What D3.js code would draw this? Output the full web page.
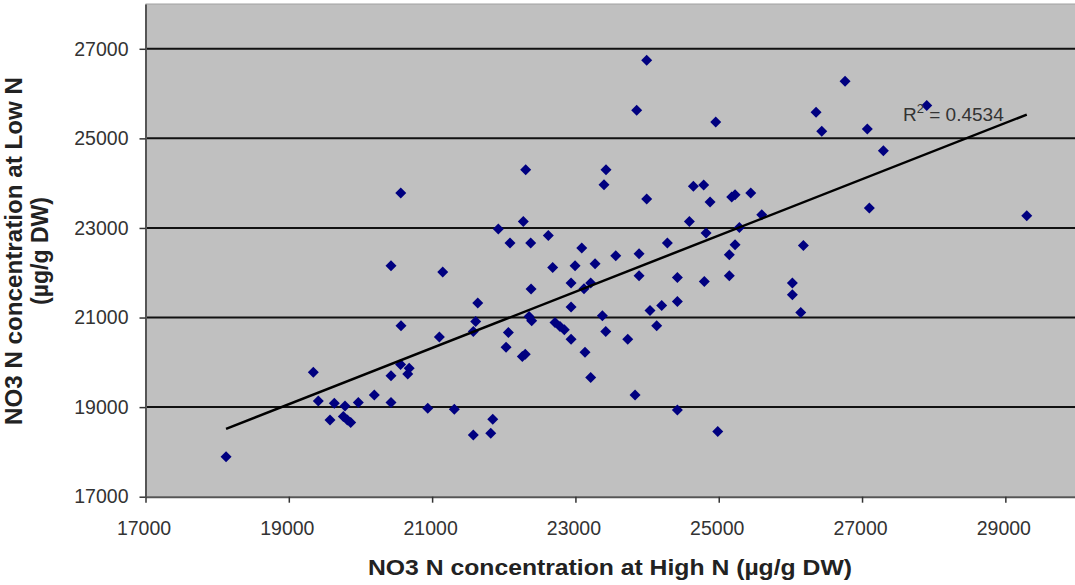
<!DOCTYPE html>
<html><head><meta charset="utf-8">
<script src="https://cdn.jsdelivr.net/npm/d3@7"></script>
<style>
body{margin:0;background:#fff;}
svg{display:block;font-family:Arial,"Liberation Sans",sans-serif;}
</style>
</head><body>
<svg id="c" width="1075" height="585"></svg>
<script>
// NO3 N concentration at High N (x) and at Low N (y), µg/g DW
const highN = [18124,19342,19412,19635,19784,19575,19761,19817,19864,19970,20193,20426,20426,20560,20680,20660,20939,21310,21575,21818,21846,
  20426,21148,20566,21101,20562,21637,21608,21575,22064,22032,22259,22300,22381,22353,22390,22683,22995,23274,23888,22939,23120,23213,22939,
  22715,22785,22845,22939,23134,23213,23376,23423,23730,23832,24041,24204,24134,24423,24423,24423,24799,25148,24986,26028,26028,26145,26181,
  27102,29299,26763,26358,26438,27074,27298,27903,23995,23855,24958,22306,23427,23399,23995,24646,24790,24879,25181,25228,25447,25600,25288,
  25228,25148,24823,24590,24283,23888,23563,23088,22622,22376,22087,21924,22273];
const lowN = [17894,19780,19139,19087,19027,18714,18788,18714,18654,19101,19273,19101,19698,19950,19870,19740,18976,18953,18379,18416,18730,
  22156,22015,20815,20563,23781,21323,20911,20688,20665,20339,20129,20180,21635,21023,20927,22118,22156,22201,21933,21770,21642,21770,21233,
  20889,20800,20726,20518,20227,19660,21039,20688,20518,19273,21157,21269,20815,21358,21895,18938,21805,21933,18453,21770,21508,21112,22610,
  23446,23274,26275,25582,25158,25211,24726,25732,26745,25627,25368,24302,24302,23967,23647,23929,23960,23580,23691,23743,23781,23296,23012,
  22626,22402,22887,23146,22663,22424,22380,22552,22833,22663,22663,22976,23146];
const xTicks = [17000,19000,21000,23000,25000,27000,29000];
const yTicks = [17000,19000,21000,23000,25000,27000];
const gridValues = [19000,21000,23000,25000,27000];
const trendHighN = [18124, 29299];
const trendLowN = [18513, 25531];
const r2Text = "0.4534";
const xTitle = "NO3 N concentration at High N (µg/g DW)";
const yTitle1 = "NO3 N concentration at Low N";
const yTitle2 = "(µg/g DW)";

const svg = d3.select("#c");
const x = d3.scaleLinear().domain([17000, 30000]).range([145.5, 1077]);
const y = d3.scaleLinear().domain([17000, 28000]).range([496.7, 4]);

// plot background
svg.append("rect")
  .attr("x", x(17000)).attr("y", y(28000))
  .attr("width", x(30000) - x(17000)).attr("height", y(17000) - y(28000))
  .attr("fill", "#c0c0c0");
svg.append("line")
  .attr("x1", x(17000)).attr("x2", x(30000))
  .attr("y1", y(28000)).attr("y2", y(28000))
  .attr("stroke", "#a0a0a0").attr("stroke-width", 1);

// gridlines
svg.append("g").selectAll("line").data(gridValues).join("line")
  .attr("x1", x(17000)).attr("x2", x(30000))
  .attr("y1", d => y(d)).attr("y2", d => y(d))
  .attr("stroke", "#111").attr("stroke-width", 2);

// axes
const xAxis = svg.append("g").attr("transform", `translate(0,${y(17000)})`)
  .call(d3.axisBottom(x).tickValues(xTicks).tickSize(6).tickSizeOuter(0).tickFormat(d3.format("d")));
const yAxis = svg.append("g").attr("transform", `translate(${x(17000)},0)`)
  .call(d3.axisLeft(y).tickValues(yTicks).tickSize(6).tickSizeOuter(0).tickFormat(d3.format("d")));
[xAxis, yAxis].forEach(a => {
  a.select(".domain").attr("stroke", "#555").attr("stroke-width", 2);
  a.selectAll(".tick line").attr("stroke", "#333").attr("stroke-width", 1.5);
  a.selectAll(".tick text").attr("fill", "#333").attr("font-size", 19.5)
   .attr("font-family", "Arial, 'Liberation Sans', sans-serif");
});
xAxis.selectAll(".tick text").attr("y", 24).attr("dx", "-2px");
yAxis.selectAll(".tick text").attr("x", -17);

// points (diamonds)
const pts = highN.map((h, i) => [h, lowN[i]]);
const r = 5.5;
svg.append("g").selectAll("path").data(pts).join("path")
  .attr("d", d => `M${x(d[0])},${y(d[1]) - r}L${x(d[0]) + r},${y(d[1])}L${x(d[0])},${y(d[1]) + r}L${x(d[0]) - r},${y(d[1])}Z`)
  .attr("fill", "#000080");

// trendline
svg.append("line")
  .attr("x1", x(trendHighN[0])).attr("y1", y(trendLowN[0]))
  .attr("x2", x(trendHighN[1])).attr("y2", y(trendLowN[1]))
  .attr("stroke", "#000").attr("stroke-width", 2.5);

// R² label
const rt = svg.append("text").attr("x", 903).attr("y", 121)
  .attr("font-size", 19).attr("fill", "#333");
rt.append("tspan").text("R");
rt.append("tspan").attr("font-size", 13).attr("dy", -8).text("2");
rt.append("tspan").attr("dy", 8).text(" = " + r2Text);

// axis titles
svg.append("text").attr("x", 610).attr("y", 575).attr("text-anchor", "middle")
  .attr("font-size", 22).attr("font-weight", "bold").attr("fill", "#222")
  .attr("textLength", 484).attr("lengthAdjust", "spacingAndGlyphs")
  .text(xTitle);
svg.append("text").attr("transform", "translate(22,251) rotate(-90)").attr("text-anchor", "middle")
  .attr("font-size", 23).attr("font-weight", "bold").attr("fill", "#222")
  .attr("textLength", 348).attr("lengthAdjust", "spacingAndGlyphs")
  .text(yTitle1);
svg.append("text").attr("transform", "translate(48,251) rotate(-90)").attr("text-anchor", "middle")
  .attr("font-size", 23).attr("font-weight", "bold").attr("fill", "#222")
  .text(yTitle2);
</script>
</body></html>
